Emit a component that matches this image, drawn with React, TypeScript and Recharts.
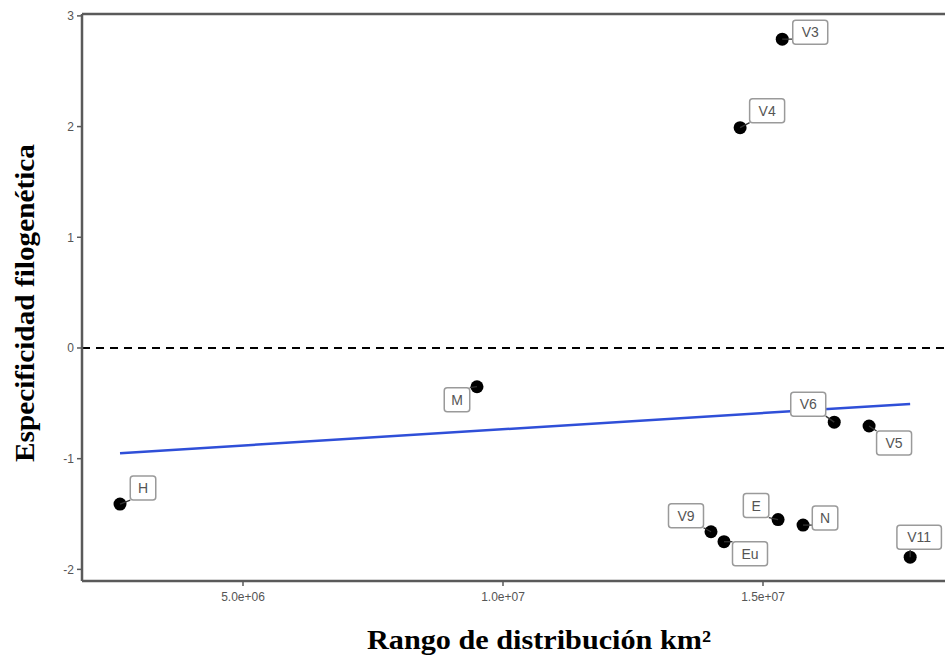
import React from "react";
import { ScatterChart, Scatter, XAxis, YAxis, ReferenceLine } from "recharts";

// species / group codes
const names = ["H", "M", "V3", "V4", "V6", "V5", "V9", "Eu", "E", "N", "V11"];
// distribution range (km2)
const rangeKm2 = [2.635e6, 9.5e6, 1.537e7, 1.456e7, 1.637e7, 1.704e7, 1.4e7, 1.425e7, 1.529e7, 1.577e7, 1.783e7];
// phylogenetic specificity
const specificity = [-1.41, -0.35, 2.79, 1.99, -0.67, -0.705, -1.66, -1.75, -1.55, -1.6, -1.89];

// fitted trend line, ends
const fitX = [2.635e6, 1.783e7];
const fitY = [-0.95, -0.505];

const xTicks = [5e6, 1e7, 1.5e7];
const xTickLabels = ["5.0e+06", "1.0e+07", "1.5e+07"];
const yTicks = [-2, -1, 0, 1, 2, 3];

const X_DOMAIN: [number, number] = [1.904e6, 1.85e7];
const Y_DOMAIN: [number, number] = [-2.105, 3.017];

// label box offset from its point, in px (layout only)
const labelOffsets: Record<string, [number, number]> = {
  H: [23, -16],
  M: [-20, 13],
  V3: [28, -7],
  V4: [27, -17],
  V6: [-26, -18],
  V5: [25, 17],
  V9: [-25, -16],
  Eu: [26, 12],
  E: [-22, -14],
  N: [22, -7],
  V11: [9, -20],
};

const points = names.map((name, i) => ({ name, x: rangeKm2[i], y: specificity[i] }));
const fitLine = fitX.map((x, i) => ({ x, y: fitY[i] }));

const AXIS = "#5a5a5a";
const clamp = (v: number, lo: number, hi: number) => Math.max(lo, Math.min(hi, v));

function Dot(props: any) {
  const { cx, cy } = props;
  return <circle cx={cx} cy={cy} r={6.5} fill="#000" />;
}

function RepelLabel(props: any) {
  const { cx, cy, payload } = props;
  const [dx, dy] = labelOffsets[payload.name] || [20, -15];
  const w = 16 + payload.name.length * 9.5;
  const h = 24;
  const bx = cx + dx - w / 2;
  const by = cy + dy - h / 2;
  const nx = clamp(cx, bx, bx + w);
  const ny = clamp(cy, by, by + h);
  return (
    <g>
      <line x1={cx} y1={cy} x2={nx} y2={ny} stroke="#333" strokeWidth={1.3} />
      <rect x={bx} y={by} width={w} height={h} rx={3} fill="#fff" stroke="#9a9a9a" strokeWidth={1.5} />
      <text
        x={bx + w / 2}
        y={by + h / 2}
        dy="0.36em"
        textAnchor="middle"
        fill="#555"
        fontSize={14}
        fontFamily="Liberation Sans, Arial, sans-serif"
      >
        {payload.name}
      </text>
    </g>
  );
}

const tickStyle = { fill: "#555", fontSize: 12, fontFamily: "Liberation Sans, Arial, sans-serif" };

export default function App() {
  return (
    <div style={{ position: "absolute", left: 0, top: 0, width: 945, height: 662, background: "#fff" }}>
      <ScatterChart width={945} height={662} margin={{ top: 14, right: 0, bottom: 0, left: 0 }}>
        <XAxis
          type="number"
          dataKey="x"
          domain={X_DOMAIN}
          allowDataOverflow
          ticks={xTicks}
          tickFormatter={(v: number) => xTickLabels[xTicks.indexOf(v)] ?? String(v)}
          height={81}
          tickSize={5}
          tickMargin={6}
          axisLine={{ stroke: AXIS, strokeWidth: 2.5 }}
          tickLine={{ stroke: AXIS, strokeWidth: 1.5 }}
          tick={tickStyle}
          label={{
            content: () => (
              <text
                x={539}
                y={649}
                textAnchor="middle"
                fontSize={27}
                fontWeight="bold"
                textLength={344}
                lengthAdjust="spacingAndGlyphs"
                fontFamily="Liberation Serif, Times New Roman, serif"
                fill="#000"
              >
                Rango de distribución km²
              </text>
            ),
          }}
        />
        <YAxis
          type="number"
          dataKey="y"
          domain={Y_DOMAIN}
          allowDataOverflow
          ticks={yTicks}
          width={82}
          tickSize={5}
          tickMargin={3}
          axisLine={{ stroke: AXIS, strokeWidth: 2.5 }}
          tickLine={{ stroke: AXIS, strokeWidth: 1.5 }}
          tick={tickStyle}
          label={{
            content: () => (
              <text
                x={34}
                y={303}
                transform="rotate(-90 34 303)"
                textAnchor="middle"
                fontSize={27}
                fontWeight="bold"
                textLength={318}
                lengthAdjust="spacingAndGlyphs"
                fontFamily="Liberation Serif, Times New Roman, serif"
                fill="#000"
              >
                Especificidad filogenética
              </text>
            ),
          }}
        />
        <ReferenceLine y={Y_DOMAIN[1]} stroke={AXIS} strokeWidth={2.5} />
        <ReferenceLine y={0} stroke="#000" strokeWidth={2} strokeDasharray="8 6" />
        <Scatter
          data={fitLine}
          fill="#2f4fd8"
          line={{ stroke: "#2f4fd8", strokeWidth: 2.5 }}
          lineType="joint"
          shape={() => <g />}
          isAnimationActive={false}
        />
        <Scatter data={points} shape={<Dot />} isAnimationActive={false} />
        <Scatter data={points} shape={<RepelLabel />} isAnimationActive={false} />
      </ScatterChart>
    </div>
  );
}
